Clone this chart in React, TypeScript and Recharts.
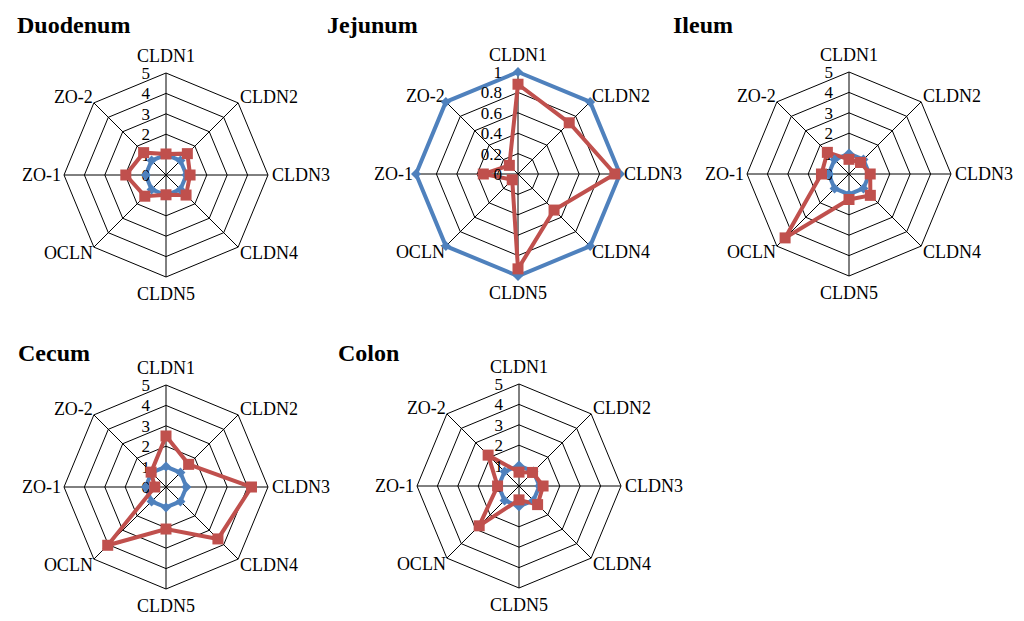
import React from 'react';
import { RadarChart, Radar, PolarGrid, PolarAngleAxis, PolarRadiusAxis } from 'recharts';

const categories = ['CLDN1', 'CLDN2', 'CLDN3', 'CLDN4', 'CLDN5', 'OCLN', 'ZO-1', 'ZO-2'];

const duodenumControl = [1, 1, 1, 1, 1, 1, 1, 1];
const duodenumTreated = [1.03, 1.48, 1.18, 1.39, 0.97, 1.47, 1.97, 1.55];

const jejunumControl = [1, 1, 1, 1, 1, 1, 1, 1];
const jejunumTreated = [0.88, 0.71, 0.95, 0.5, 0.93, 0.08, 0.34, 0.12];

const ileumControl = [1, 1, 1, 1, 1, 1, 1, 1];
const ileumTreated = [0.72, 0.8, 1.04, 1.48, 1.25, 4.43, 1.35, 1.5];

const cecumControl = [1, 1, 1, 1, 1, 1, 1, 1];
const cecumTreated = [2.5, 1.57, 4.19, 3.6, 2.06, 4.04, 0.55, 1.03];

const colonControl = [1, 1, 1, 1, 1, 1, 1, 1];
const colonTreated = [0.68, 0.94, 1.18, 1.29, 0.68, 2.76, 1.05, 2.14];

const ticksFive = [0, 1, 2, 3, 4, 5];
const ticksOne = [0, 0.2, 0.4, 0.6, 0.8, 1];

const W = 360;
const H = 300;
const R = 102;
const BLUE = '#4F81BD';
const RED = '#C0504D';
const FONT = '"Liberation Serif", "Times New Roman", serif';

function buildRows(control: number[], treated: number[]) {
  return categories.map((c, i) => ({ name: c, control: control[i], treated: treated[i] }));
}

function AngleTick(props: any) {
  const { payload } = props;
  const i = categories.indexOf(payload.value);
  const a = ((90 - i * 45) * Math.PI) / 180;
  const vx = W / 2 + R * Math.cos(a);
  const vy = H / 2 - R * Math.sin(a);
  let x = vx;
  let y = vy;
  let anchor: 'start' | 'middle' | 'end' = 'middle';
  switch (i) {
    case 0: x = vx; y = vy - 11; anchor = 'middle'; break;
    case 1: x = vx + 2; y = vy; anchor = 'start'; break;
    case 2: x = vx + 4; y = vy + 6; anchor = 'start'; break;
    case 3: x = vx + 2; y = vy + 12; anchor = 'start'; break;
    case 4: x = vx; y = vy + 23; anchor = 'middle'; break;
    case 5: x = vx - 1; y = vy + 12; anchor = 'end'; break;
    case 6: x = vx - 3; y = vy + 6; anchor = 'end'; break;
    case 7: x = vx - 1; y = vy; anchor = 'end'; break;
  }
  return (
    <text x={x} y={y} textAnchor={anchor} fontFamily={FONT} fontSize={18} fill="#000">
      {payload.value}
    </text>
  );
}

function RadiusTick(props: any) {
  const { y, payload } = props;
  const v = Number(Number(payload.value).toFixed(1));
  return (
    <text x={W / 2 - 16} y={y + 6} textAnchor="end" fontFamily={FONT} fontSize={17} fill="#000">
      {String(v)}
    </text>
  );
}

function SquareDot(props: any) {
  const { cx, cy, index } = props;
  return <rect key={`sq-${index}`} x={cx - 5.5} y={cy - 5.5} width={11} height={11} fill={RED} />;
}

function DiamondDot(props: any) {
  const { cx, cy, index } = props;
  const s = 5;
  return (
    <polygon
      key={`dm-${index}`}
      points={`${cx},${cy - s} ${cx + s},${cy} ${cx},${cy + s} ${cx - s},${cy}`}
      fill={BLUE}
    />
  );
}

function Panel({ cx, cy, control, treated, ticks }: { cx: number; cy: number; control: number[]; treated: number[]; ticks: number[] }) {
  const data = buildRows(control, treated);
  const max = ticks[ticks.length - 1];
  const rings = ticks.filter((t) => t > 0).map((t) => (t / max) * R);
  return (
    <div style={{ position: 'absolute', left: cx - W / 2, top: cy - H / 2, width: W, height: H }}>
      <RadarChart
        width={W}
        height={H}
        data={data}
        cx="50%"
        cy="50%"
        outerRadius={R}
        margin={{ top: 0, right: 0, bottom: 0, left: 0 }}
      >
        <PolarGrid gridType="polygon" stroke="#000" strokeWidth={1} polarRadius={rings} />
        <PolarAngleAxis dataKey="name" tick={<AngleTick />} tickLine={false} axisLine={false} />
        <PolarRadiusAxis
          angle={90}
          type="number"
          domain={[0, max]}
          ticks={ticks as any}
          tickCount={ticks.length}
          allowDecimals={true}
          tick={<RadiusTick />}
          axisLine={false}
          tickLine={false}
        />
        <Radar
          dataKey="control"
          stroke={BLUE}
          strokeWidth={4}
          fill="none"
          fillOpacity={0}
          dot={<DiamondDot />}
          isAnimationActive={false}
        />
        <Radar
          dataKey="treated"
          stroke={RED}
          strokeWidth={4}
          fill="none"
          fillOpacity={0}
          dot={<SquareDot />}
          isAnimationActive={false}
        />
      </RadarChart>
    </div>
  );
}

export default function App() {
  return (
    <div style={{ position: 'absolute', left: 0, top: 0, width: 1024, height: 621, background: '#fff', overflow: 'hidden' }}>
      <Panel cx={166} cy={175} control={duodenumControl} treated={duodenumTreated} ticks={ticksFive} />
      <Panel cx={518} cy={174} control={jejunumControl} treated={jejunumTreated} ticks={ticksOne} />
      <Panel cx={849} cy={174} control={ileumControl} treated={ileumTreated} ticks={ticksFive} />
      <Panel cx={166} cy={487} control={cecumControl} treated={cecumTreated} ticks={ticksFive} />
      <Panel cx={519} cy={486} control={colonControl} treated={colonTreated} ticks={ticksFive} />
      <svg width={1024} height={621} style={{ position: 'absolute', left: 0, top: 0, pointerEvents: 'none' }}>
        <g fontFamily={FONT} fontSize={24} fontWeight="bold" fill="#000">
          <text x={17} y={33}>Duodenum</text>
          <text x={327} y={33}>Jejunum</text>
          <text x={673} y={33}>Ileum</text>
          <text x={18} y={361}>Cecum</text>
          <text x={338} y={361}>Colon</text>
        </g>
      </svg>
    </div>
  );
}
